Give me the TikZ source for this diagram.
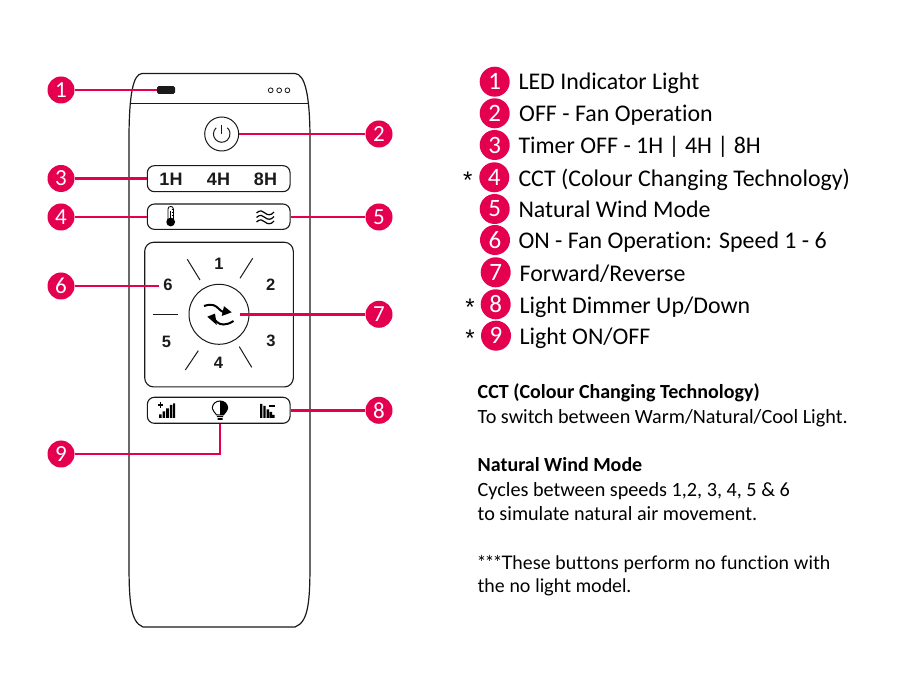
\documentclass[tikz,border=0pt]{standalone}
\usepackage{fontspec}
\setmainfont[Ligatures=NoCommon]{Carlito}
\newfontfamily\armfont{Liberation Sans}
\newfontfamily\notefont[Ligatures=NoCommon]{Lato}
\definecolor{pink}{HTML}{E4004F}
\definecolor{ink}{HTML}{1A1A1A}
\tikzset{
  badge/.style={circle,fill=pink,text=white,minimum size=27pt,inner sep=0pt,font=\fontsize{23}{23}\selectfont},
  lbadge/.style={circle,fill=pink,text=white,minimum size=30pt,inner sep=0pt,font=\fontsize{25}{25}\selectfont},
  wire/.style={draw=pink,line width=2.8pt},
  bar/.style={draw=ink,line width=1.1pt,rounded corners=7pt,minimum width=142.7pt,inner sep=0pt},
  keylabel/.style={font=\armfont\bfseries\fontsize{18}{18}\selectfont,text=ink,inner sep=0pt},
  dial/.style={font=\armfont\bfseries\fontsize{16.5}{16.5}\selectfont,text=ink,inner sep=0pt},
  legend/.style={anchor=base west,inner sep=0pt,text=black,font=\fontsize{23.9}{23.9}\selectfont},
  star/.style={inner sep=0pt,text=black,font=\armfont\fontsize{24}{24}\selectfont},
  notehead/.style={anchor=base west,inner sep=0pt,text=black,font=\bfseries\fontsize{20}{20}\selectfont},
  notebody/.style={anchor=base west,inner sep=0pt,text=black,font=\fontsize{20.2}{20.2}\selectfont},
  noteend/.style={anchor=base west,inner sep=0pt,text=black,font=\notefont\fontsize{18.7}{18.7}\selectfont},
  thin line/.style={draw=ink,line width=1pt},
  icon/.style={draw=black,line width=1pt},
}
\begin{document}
\begin{tikzpicture}[x=1pt,y=-1pt]
\useasboundingbox[fill=white] (0,0) rectangle (900,700);
% remote body
\draw[draw=ink,line width=1.2pt] (142,73.5) -- (295,73.5)
  .. controls (305,74) and (310,95) .. (310,140) -- (310,560)
  .. controls (310,600) and (309,622) .. (295,627) -- (143,627)
  .. controls (130,622) and (129,600) .. (129,560) -- (129,140)
  .. controls (129,95) and (133,74) .. (142,73.5) -- cycle;
\draw[thin line] (131,103.3) -- (308,103.3);
% LED and dots
\node[fill=ink,rounded corners=1.5pt,minimum width=18pt,minimum height=7.6pt,inner sep=0pt] (led) at (166,90) {};
\foreach \x/\n in {270.7/a,279.2/b,287.4/c}
  \node[circle,draw=ink,line width=0.8pt,minimum size=4.8pt,inner sep=0pt] (dot\n) at (\x,90.3) {};
% power
\node[circle,thin line,minimum size=34pt,inner sep=0pt] (power) at (221.7,134) {};
\draw[thin line] (221.7,134) -- (221.7,125.5);
\draw[thin line] (216.2,127.8) arc[start angle=132,end angle=408,radius=8.3pt];
% bars
\node[bar,minimum height=26pt] (timer) at (218.7,178.7) {};
\node[keylabel] (h1) at (171,179) {1H};
\node[keylabel] (h4) at (218.5,179) {4H};
\node[keylabel] (h8) at (265.5,179) {8H};
\node[bar,minimum height=25.3pt] (mode) at (218.7,216.7) {};
% thermometer
\draw[icon,line width=0.8pt] (168,220) -- (168,209) .. controls (168,205.6) and (173.4,205.6) .. (173.4,209) -- (173.4,220);
\fill[black] (170.7,222) circle[radius=4.4pt];
\fill[black] (170,211) rectangle (171.4,220);
\draw[icon,line width=0.5pt] (171.5,209.5) -- (173,209.5) (171.5,212.5) -- (173,212.5) (171.5,215.5) -- (173,215.5);
% waves
\foreach \y in {213,217.5,222}
  \draw[icon,line width=1.2pt] (256.5,\y) .. controls (260,\y-3.5) and (263,\y-2) .. (265,\y) .. controls (267,\y+2) and (271,\y+3) .. (274,\y-1);
% dial
\node[draw=ink,line width=1.1pt,rounded corners=9pt,minimum width=148.6pt,minimum height=144.7pt,inner sep=0pt] (dialbox) at (219,314.6) {};
\node[circle,thin line,minimum size=60pt,inner sep=0pt] (rev) at (219,314.3) {};
\node[dial] (s1) at (219,264) {1};
\node[dial] (s2) at (270.7,285) {2};
\node[dial] (s3) at (271,341) {3};
\node[dial] (s4) at (218.5,363) {4};
\node[dial] (s5) at (166.5,342) {5};
\node[dial] (s6) at (168,285) {6};
\draw[thin line] (187.3,259.3) -- (200,280);
\draw[thin line] (252.7,258.3) -- (240,278.3);
\draw[thin line] (153,314.3) -- (178.3,314.3);
\draw[thin line] (198.3,350.7) -- (185.3,370);
\draw[thin line] (239.3,346.7) -- (251.7,367.3);
% sync arrows
\draw[black,line width=2pt] (204,306) .. controls (213,303) and (216,306) .. (219,309) .. controls (222,312) and (225,313) .. (228,312.5);
\fill[black] (231.7,312.3) -- (224,306.2) -- (221.7,316) -- cycle;
\draw[black,line width=2pt] (233.5,321) .. controls (226,326) and (220,325) .. (217,322) .. controls (214,319) and (212,317.5) .. (210,317);
\fill[black] (207.3,316.7) -- (215,313.6) -- (216.8,325) -- cycle;
% bottom bar
\node[bar,minimum height=26pt] (light) at (218.7,410.3) {};
% up icon
\draw[icon,line width=1.2pt] (157.5,405) -- (163,405) (160.2,402.2) -- (160.2,407.8);
\fill[black] (159,418) rectangle (161.6,414.5) (162.6,418) rectangle (165.2,411.5) (166.2,418) rectangle (168.8,408.5) (169.8,418) rectangle (172.4,405) (173,418) rectangle (175,403.5);
% bulb
\draw[icon,line width=1pt] (216.5,414.8) .. controls (215,411.5) and (212.3,411.5) .. (212.3,408.2) .. controls (212.3,404) and (215.8,401) .. (220,401) .. controls (224.2,401) and (227.7,404) .. (227.7,408.2) .. controls (227.7,411.5) and (225,411.5) .. (223.5,414.8) -- cycle;
\fill[black] (220,401) .. controls (224.2,401) and (227.7,404) .. (227.7,408.2) .. controls (227.7,411.5) and (225,411.5) .. (223.5,414.8) -- (220,414.8) -- cycle;
\fill[black] (216.8,415.8) rectangle (223.2,417.2) (217.5,418.2) rectangle (222.5,420);
% down icon
\fill[black] (260,418) rectangle (262.4,404) (263.3,418) rectangle (265.7,406) (266.6,418) rectangle (269,409.5) (269.6,418) rectangle (272,412) (272.4,418) rectangle (274.6,415);
\draw[icon,line width=1.2pt] (268.5,406) -- (275,406);
% left badges
\node[badge] (b1) at (61,90) {\raisebox{-0.6pt}{1}};
\node[badge] (b2) at (379,134) {\raisebox{-0.6pt}{2}};
\node[badge] (b3) at (61,178.5) {\raisebox{-0.6pt}{3}};
\node[badge] (b4) at (61,217) {\raisebox{-0.6pt}{4}};
\node[badge] (b5) at (379,217) {\raisebox{-0.6pt}{5}};
\node[badge] (b6) at (61,286) {\raisebox{-0.6pt}{6}};
\node[badge] (b7) at (379,314.3) {\raisebox{-0.6pt}{7}};
\node[badge] (b8) at (379,410.3) {\raisebox{-0.6pt}{8}};
\node[badge] (b9) at (61,454) {\raisebox{-0.6pt}{9}};
% connectors
\coordinate (c6) at (159,286);
\coordinate (c7) at (240,314.3);
\coordinate (c9) at (220,454);
\draw[wire] (b1.east) -- (led.west);
\draw[wire] (power.east) -- (b2.west);
\draw[wire] (b3.east) -- (timer.west |- b3.east);
\draw[wire] (b4.east) -- (mode.west |- b4.east);
\draw[wire] (mode.east |- b5.west) -- (b5.west);
\draw[wire] (b6.east) -- (c6);
\draw[wire] (c7) -- (b7.west);
\draw[wire] (light.east |- b8.west) -- (b8.west);
\draw[wire] (b9.east) -- (c9) -- (c9 |- light.south);
% legend
\node[lbadge] (l1) at (494.7,81.7) {\raisebox{-0.7pt}{1}};
\node[lbadge] (l2) at (494.7,113.3) {\raisebox{-0.7pt}{2}};
\node[lbadge] (l3) at (494.7,145) {\raisebox{-0.7pt}{3}};
\node[lbadge] (l4) at (494.3,177.3) {\raisebox{-0.7pt}{4}};
\node[lbadge] (l5) at (494.7,209) {\raisebox{-0.7pt}{5}};
\node[lbadge] (l6) at (495,240) {\raisebox{-0.7pt}{6}};
\node[lbadge] (l7) at (495.7,272.3) {\raisebox{-0.7pt}{7}};
\node[lbadge] (l8) at (495.7,304.3) {\raisebox{-0.7pt}{8}};
\node[lbadge] (l9) at (496,335.7) {\raisebox{-0.7pt}{9}};
\node[legend] (t1) at (518.3,89.7) {LED Indicator Light};
\node[legend] (t2) at (519,121.7) {OFF - Fan Operation};
\node[legend] (t3) at (518.3,153.2) {Timer OFF - 1H | 4H | 8H};
\node[legend] (t4) at (518.3,186.2) {CCT (Colour Changing Technology)};
\node[legend] (t5) at (518.3,217.7) {Natural Wind Mode};
\node[legend] (t6) at (518.3,248.7) {ON - Fan Operation: Speed 1 - 6};
\node[legend] (t7) at (519.5,281.7) {Forward/Reverse};
\node[legend] (t8) at (519.5,313.7) {Light Dimmer Up/Down};
\node[legend] (t9) at (519.5,344.7) {Light ON/OFF};
\node[star] (a4) at (467.7,180.5) {*};
\node[star] (a8) at (470,307.5) {*};
\node[star] (a9) at (470,338.5) {*};
% notes
\node[notehead] (n1) at (477.5,398.7) {CCT (Colour Changing Technology)};
\node[notebody] (n2) at (477.5,423.7) {To switch between Warm/Natural/Cool Light.};
\node[notehead] (n3) at (477.5,471.7) {Natural Wind Mode};
\node[notebody] (n4) at (477.5,496.7) {Cycles between speeds 1,2, 3, 4, 5 \& 6};
\node[notebody] (n5) at (477.5,520.7) {to simulate natural air movement.};
\node[noteend] (n6) at (477.5,569) {***These buttons perform no function with};
\node[noteend] (n7) at (477.5,592) {the no light model.};
\end{tikzpicture}
\end{document}
